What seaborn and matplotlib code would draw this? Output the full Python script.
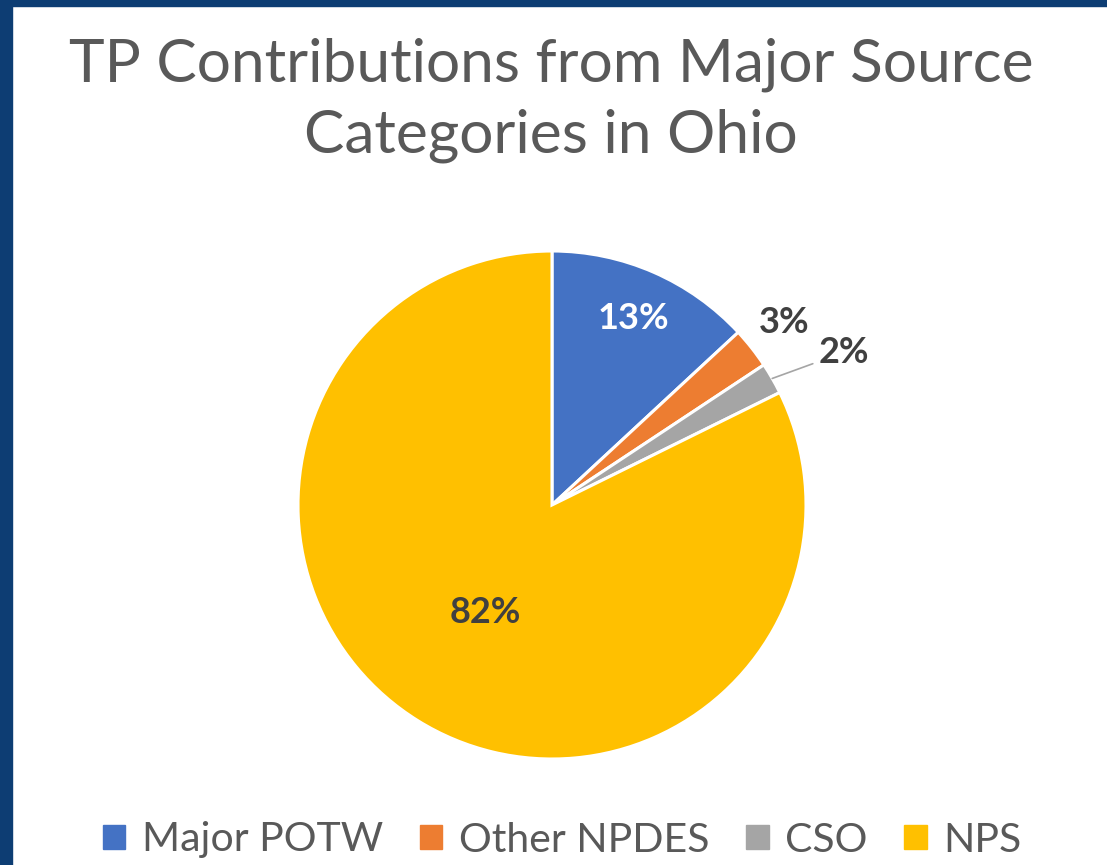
import numpy as np
import matplotlib
matplotlib.use("Agg")
import matplotlib.pyplot as plt
import seaborn as sns
from matplotlib.patches import Rectangle

# data
categories = ["Major POTW", "Other NPDES", "CSO", "NPS"]
shares = [13.1, 2.6, 2.0, 82.3]
colors = ["#4472C4", "#ED7D31", "#A5A5A5", "#FFC000"]

sns.set_theme(style="white")
plt.rcParams["font.family"] = ["Lato", "DejaVu Sans"]

fig = plt.figure(figsize=(11.07, 8.65), dpi=100)
W, H = 1107, 865

# dark blue frame on the left and top
fig.patches.append(Rectangle((0, 0), 12 / W, 1, transform=fig.transFigure,
                             color="#0D3D73", zorder=10))
fig.patches.append(Rectangle((0, 1 - 6 / H), 1, 6 / H, transform=fig.transFigure,
                             color="#0D3D73", zorder=10))

# pie axes: centre (552, 505), radius 254 px
cx, cy, r = 552, 505, 254
ax = fig.add_axes([(cx - r) / W, (H - cy - r) / H, 2 * r / W, 2 * r / H])
wedges, _ = ax.pie(shares, colors=colors, startangle=90, counterclock=False,
                   wedgeprops=dict(edgecolor="white", linewidth=2.2))
ax.set_xlim(-1, 1)
ax.set_ylim(-1, 1)
ax.set_aspect("equal")
ax.axis("off")

# label placement (radius in pie units), Excel "best fit" style
label_r = [0.80, 1.16, 1.30, 0.50]
label_c = ["white", "#404040", "#404040", "#404040"]
for i, w in enumerate(wedges):
    ang = np.deg2rad((w.theta1 + w.theta2) / 2)
    txt = f"{shares[i]:.0f}%"
    if i == 2:
        ex, ey = 1.0 * np.cos(ang), 1.0 * np.sin(ang)
        ax.annotate(txt, xy=(ex, ey), xytext=(1.05, 0.60),
                    ha="left", va="center", fontsize=26, fontweight="bold",
                    color=label_c[i],
                    arrowprops=dict(arrowstyle="-", color="#A5A5A5", lw=1.2,
                                    connectionstyle="angle,angleA=0,angleB=20,rad=0",
                                    shrinkA=2, shrinkB=0))
    else:
        ax.text(label_r[i] * np.cos(ang), label_r[i] * np.sin(ang), txt,
                ha="center", va="center", fontsize=26, fontweight="bold",
                color=label_c[i])

fig.text(551 / W, 1 - 100 / H, "TP Contributions from Major Source\nCategories in Ohio",
         ha="center", va="center", fontsize=43.5, color="#595959",
         linespacing=1.38)

handles = [Rectangle((0, 0), 1, 1, color=c) for c in colors]
fig.legend(handles, categories, loc="center", bbox_to_anchor=(562 / W, 1 - 840 / H),
           ncol=4, frameon=False, fontsize=29.5, labelcolor="#595959",
           handlelength=0.55, handleheight=0.55, handletextpad=0.4,
           columnspacing=0.9)

fig.savefig("out.png", dpi=100, facecolor="white")
